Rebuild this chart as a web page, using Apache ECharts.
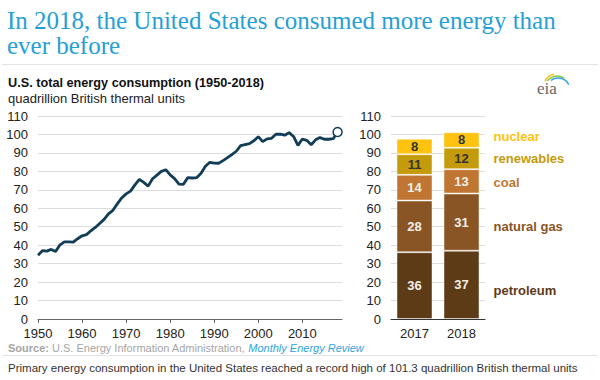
<!DOCTYPE html>
<html><head><meta charset="utf-8">
<script src="https://cdn.jsdelivr.net/npm/echarts@6/dist/echarts.min.js"></script>
<style>html,body{margin:0;padding:0;background:#fff}#c{width:600px;height:380px}</style>
</head><body><div id="c"></div>
<script>
// ---- data ----
const years = [1950,1951,1952,1953,1954,1955,1956,1957,1958,1959,
  1960,1961,1962,1963,1964,1965,1966,1967,1968,1969,
  1970,1971,1972,1973,1974,1975,1976,1977,1978,1979,
  1980,1981,1982,1983,1984,1985,1986,1987,1988,1989,
  1990,1991,1992,1993,1994,1995,1996,1997,1998,1999,
  2000,2001,2002,2003,2004,2005,2006,2007,2008,2009,
  2010,2011,2012,2013,2014,2015,2016,2017,2018];
const consumption = [34.6,37.0,36.8,37.7,36.6,40.2,41.8,41.8,41.7,43.5,
  45.1,45.7,47.8,49.6,51.8,54.0,57.0,58.9,62.4,65.6,
  67.8,69.3,72.7,75.7,74.0,72.0,76.0,78.0,80.0,80.9,
  78.1,76.1,73.1,73.0,76.6,76.4,76.6,79.0,82.8,84.9,
  84.5,84.4,85.8,87.4,89.1,90.9,93.9,94.5,95.0,96.6,
  98.8,96.1,97.6,97.9,100.1,100.2,99.6,101.0,98.9,94.1,
  97.5,96.8,94.4,97.1,98.3,97.4,97.4,97.7,101.3];
const xTicks = {min: 1950, max: 2019, interval: 10};
const yTicks = {min: 0, max: 110, interval: 10};
const barCategories = ['2017', '2018'];
const sourceNames = ['petroleum', 'natural gas', 'coal', 'renewables', 'nuclear'];
const petroleum  = [36.2, 37.0];
const naturalGas = [28.0, 31.0];
const coal       = [13.9, 13.2];
const renewables = [11.2, 11.6];
const nuclear    = [8.4, 8.4];

// ---- styles ----
const sourceColors = ['#5e3b17', '#8a5524', '#c07632', '#c49b0a', '#fdc30f'];
const nameColors   = ['#5e3b17', '#8a5524', '#c07632', '#c49b0a', '#fdc30f'];
const innerLabelColors = ['#f2efe9', '#f2efe9', '#f2efe9', '#333333', '#333333'];
const nameNudge = [6, 4, 1, 0, -3];
const SANS = '"Liberation Sans", Arial, sans-serif';
const lineColor = '#113d56';

const chart = echarts.init(document.getElementById('c'), null, {renderer: 'svg'});

const barValues = [petroleum, naturalGas, coal, renewables, nuclear];

const lineData = years.map((y, i) => {
  const item = {value: [y, consumption[i]]};
  if (i === years.length - 1) {
    item.symbol = 'circle';
    item.symbolSize = 9;
    item.itemStyle = {color: '#fff', borderColor: lineColor, borderWidth: 1.5};
  }
  return item;
});

const barSeries = sourceNames.map((name, k) => ({
  name: name,
  type: 'bar',
  stack: 'total',
  xAxisIndex: 1,
  yAxisIndex: 1,
  barWidth: 36,
  data: barValues[k],
  itemStyle: {color: sourceColors[k], borderColor: 'rgba(255,255,255,0.45)', borderWidth: 1},
  label: {
    show: true,
    position: 'inside',
    formatter: p => Math.round(p.value),
    color: innerLabelColors[k],
    fontFamily: SANS,
    fontWeight: 'bold',
    fontSize: 13
  },
  emphasis: {disabled: true},
  z: 3
}));

const option = {
  animation: false,
  backgroundColor: '#fff',
  title: [
    {
      text: 'In 2018, the United States consumed more energy than\never before',
      left: 2, top: 3,
      textStyle: {fontFamily: '"Liberation Serif", "Times New Roman", serif', fontSize: 25, fontWeight: 'normal', color: '#25a0d6', lineHeight: 25}
    },
    {
      text: 'U.S. total energy consumption (1950-2018)',
      subtext: 'quadrillion British thermal units',
      left: 3, top: 71, itemGap: 3,
      textStyle: {fontFamily: SANS, fontSize: 12.7, fontWeight: 'bold', color: '#111'},
      subtextStyle: {fontFamily: SANS, fontSize: 13, color: '#222'}
    },
    {
      text: '{b|Source:} U.S. Energy Information Administration, {i|Monthly Energy Review}',
      left: 3, top: 337,
      textStyle: {
        fontFamily: SANS, fontSize: 11, fontWeight: 'normal', color: '#a6a6a6',
        rich: {
          b: {fontFamily: SANS, fontSize: 11, fontWeight: 'bold', color: '#a6a6a6'},
          i: {fontFamily: SANS, fontSize: 11, fontStyle: 'italic', color: '#2ea6de'}
        }
      }
    },
    {
      text: 'Primary energy consumption in the United States reached a record high of 101.3 quadrillion British thermal units',
      left: 3, top: 357,
      textStyle: {fontFamily: SANS, fontSize: 11.5, fontWeight: 'normal', color: '#333'}
    }
  ],
  grid: [
    {left: 38, top: 116, width: 304, bottom: 61},
    {left: 391, top: 116, width: 94, bottom: 61}
  ],
  xAxis: [
    {
      type: 'value', gridIndex: 0,
      min: xTicks.min, max: xTicks.max, interval: xTicks.interval,
      splitLine: {show: false},
      axisLine: {show: true, lineStyle: {color: '#666', width: 1}},
      axisTick: {show: true, length: 4, lineStyle: {color: '#666'}},
      axisLabel: {
        color: '#222', fontFamily: SANS, fontSize: 13, margin: 8,
        showMaxLabel: false,
        formatter: v => (v % 10 === 0 ? String(v) : '')
      }
    },
    {
      type: 'category', gridIndex: 1, data: barCategories,
      axisLine: {show: true, lineStyle: {color: '#333', width: 1}},
      axisTick: {show: false},
      axisLabel: {color: '#222', fontFamily: SANS, fontSize: 13, margin: 8}
    }
  ],
  yAxis: [
    {
      type: 'value', gridIndex: 0,
      min: yTicks.min, max: yTicks.max, interval: yTicks.interval,
      axisLine: {show: false}, axisTick: {show: false},
      splitLine: {lineStyle: {color: '#dcdcdc', width: 1}},
      axisLabel: {color: '#222', fontFamily: SANS, fontSize: 13, margin: 10}
    },
    {
      type: 'value', gridIndex: 1,
      min: yTicks.min, max: yTicks.max, interval: yTicks.interval,
      axisLine: {show: false}, axisTick: {show: false},
      splitLine: {lineStyle: {color: '#dcdcdc', width: 1}},
      axisLabel: {color: '#222', fontFamily: SANS, fontSize: 13, margin: 10}
    }
  ],
  series: [
    {
      type: 'line', xAxisIndex: 0, yAxisIndex: 0,
      data: lineData,
      symbol: 'none', showSymbol: true,
      lineStyle: {color: lineColor, width: 2.8},
      itemStyle: {color: lineColor},
      emphasis: {disabled: true},
      z: 4
    }
  ].concat(barSeries)
};

chart.setOption(option);

// ---- annotations: source names right of the 2018 bar, rules, logo ----
const graphics = [];
let cum = 0;
const lastIdx = barCategories.length - 1;
sourceNames.forEach((name, k) => {
  const v = barValues[k][lastIdx];
  const mid = cum + v / 2;
  cum += v;
  const p = chart.convertToPixel({xAxisIndex: 1, yAxisIndex: 1}, [barCategories[lastIdx], mid]);
  graphics.push({
    type: 'text', x: p[0] + 32, y: p[1] + nameNudge[k],
    style: {text: name, fill: nameColors[k], font: 'bold 13px ' + SANS, textVerticalAlign: 'middle', verticalAlign: 'middle'}
  });
});
graphics.push({type: 'line', shape: {x1: 2, y1: 64.5, x2: 598, y2: 64.5}, style: {stroke: '#e3e3e3', lineWidth: 1}});
graphics.push({type: 'line', shape: {x1: 2, y1: 355.5, x2: 598, y2: 355.5}, style: {stroke: '#e3e3e3', lineWidth: 1}});
// eia logo
graphics.push({type: 'text', x: 537, y: 80, style: {text: 'eia', fill: '#666', font: '17px "Liberation Serif", serif'}});
graphics.push({type: 'arc', shape: {cx: 556, cy: 86, r: 12, startAngle: Math.PI * 1.12, endAngle: Math.PI * 1.45}, style: {stroke: '#f2c21b', lineWidth: 1.5, fill: null}});
graphics.push({type: 'arc', shape: {cx: 557, cy: 88, r: 12, startAngle: Math.PI * 1.2, endAngle: Math.PI * 1.7}, style: {stroke: '#8cc63f', lineWidth: 1.5, fill: null}});
graphics.push({type: 'arc', shape: {cx: 558, cy: 90, r: 12, startAngle: Math.PI * 1.3, endAngle: Math.PI * 1.85}, style: {stroke: '#2ea6de', lineWidth: 1.5, fill: null}});

chart.setOption({graphic: graphics});
</script>
</body></html>
